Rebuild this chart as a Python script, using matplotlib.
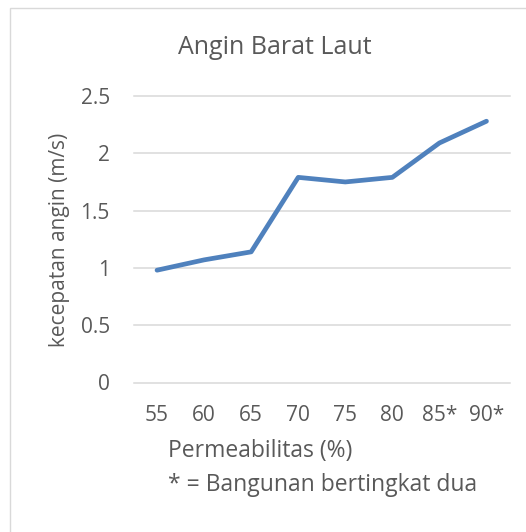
import numpy as np
import matplotlib.pyplot as plt
from matplotlib.patches import Rectangle

# data
kategori = ['55', '60', '65', '70', '75', '80', '85*', '90*']
kecepatan = [0.98, 1.07, 1.14, 1.79, 1.75, 1.79, 2.09, 2.28]
yticks = [0, 0.5, 1, 1.5, 2, 2.5]
ylabels = ['0', '0.5', '1', '1.5', '2', '2.5']

W, H = 526, 532
grey = '#595959'
plt.rcParams['font.family'] = ['Open Sans', 'DejaVu Sans']

fig = plt.figure(figsize=(W/100, H/100), dpi=100)
ax = fig.add_axes([133.5/W, 1-382.5/H, (510-133.5)/W, (382.5-96)/H])

x = np.arange(len(kategori))
ax.plot(x, kecepatan, color='#4f81bd', lw=3.4, solid_capstyle='round', solid_joinstyle='round', zorder=3)

ax.set_xlim(-0.5, len(kategori)-0.5)
ax.set_ylim(0, 2.5)
ax.set_yticks(yticks)
ax.set_yticklabels(ylabels)
ax.set_xticks(x)
ax.set_xticklabels(kategori)
ax.grid(axis='y', color='#d9d9d9', lw=1.1, clip_on=False)
ax.set_axisbelow(True)
for s in ax.spines.values():
    s.set_visible(False)
ax.tick_params(axis='both', length=0, labelsize=15, colors=grey)
ax.tick_params(axis='y', pad=17)
ax.tick_params(axis='x', pad=16)

fig.text(275/W, 1-48/H, 'Angin Barat Laut', ha='center', va='center', fontsize=18, color=grey)
fig.text(59/W, 1-240/H, 'kecepatan angin (m/s)', ha='center', va='center', rotation=90, fontsize=15, color=grey)
fig.text(260/W, 1-451/H, 'Permeabilitas (%)', ha='center', va='center', fontsize=16.5, color=grey)
fig.text(168/W, 1-485/H, '* = Bangunan bertingkat dua', ha='left', va='center', fontsize=16.5, color=grey)

# chart border
fig.patches.append(Rectangle((10/W, -0.05), 1.2, 1-8/H+0.05, transform=fig.transFigure,
                             fill=False, edgecolor='#d9d9d9', lw=1.0))

fig.savefig('out.png', dpi=100)
